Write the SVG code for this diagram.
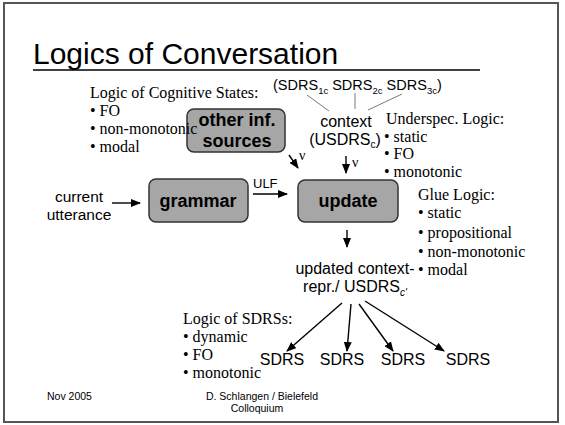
<svg xmlns="http://www.w3.org/2000/svg" width="565" height="425" viewBox="0 0 565 425">
<defs>
<marker id="ah" markerUnits="userSpaceOnUse" markerWidth="10" markerHeight="8" refX="9" refY="4" orient="auto">
<path d="M0,0 L10,4 L0,8 z" fill="#000"/>
</marker>
<style>
.sans{font-family:"Liberation Sans",Arial,sans-serif;fill:#000}
.serif{font-family:"Liberation Serif","Times New Roman",serif;fill:#000;font-size:16px}
.box{fill:#a6a6a6;stroke:#333;stroke-width:1.5}
.lbl{font-family:"Liberation Sans",Arial,sans-serif;font-weight:bold;font-size:18px;text-anchor:middle;fill:#000}
.arr{stroke:#000;stroke-width:1.4;fill:none;marker-end:url(#ah)}
.thin{stroke:#555;stroke-width:0.8;fill:none}
.t16{font-size:16px}
.mid{text-anchor:middle}
.nu{font-family:"Liberation Serif","Times New Roman",serif;font-size:14px;fill:#000}
.foot{font-family:"Liberation Sans",Arial,sans-serif;font-size:10.5px;fill:#000}
</style>
</defs>
<rect x="0" y="0" width="565" height="425" fill="#fff"/>
<rect x="4" y="3" width="554" height="419" fill="none" stroke="#555" stroke-width="2"/>

<g id="title">
<text class="sans" x="33" y="64" font-size="30">Logics of Conversation</text>
<line x1="33" y1="70" x2="480" y2="70" stroke="#000" stroke-width="1.5"/>
</g>

<g id="sdrs-context-set">
<text class="sans" font-size="14.5" x="273" y="90">(SDRS<tspan font-size="9.5" dy="4">1c</tspan><tspan dy="-4"> SDRS</tspan><tspan font-size="9.5" dy="4">2c</tspan><tspan dy="-4"> SDRS</tspan><tspan font-size="9.5" dy="4">3c</tspan><tspan dy="-4">)</tspan></text>
</g>

<g id="context">
<text class="sans t16 mid" x="346" y="127">context</text>
<text class="sans t16 mid" x="345" y="145">(USDRS<tspan font-size="10" dy="3">c</tspan><tspan dy="-3">)</tspan></text>
</g>

<g id="other-sources">
<rect class="box" x="187" y="109" width="98" height="43" rx="7"/>
<text class="lbl" x="237" y="126">other inf.</text>
<text class="lbl" x="237" y="147">sources</text>
</g>

<g id="cognitive-logic">
<text class="serif" x="90" y="98">Logic of Cognitive States:</text>
<text class="serif" x="90" y="116">• FO</text>
<text class="serif" x="90" y="134">• non-monotonic</text>
<text class="serif" x="90" y="152">• modal</text>
</g>

<g id="underspec-logic">
<text class="serif" x="386" y="124">Underspec. Logic:</text>
<text class="serif" x="384" y="142">• static</text>
<text class="serif" x="384" y="159">• FO</text>
<text class="serif" x="384" y="177">• monotonic</text>
</g>

<g id="current-utterance">
<text class="sans mid" font-size="15.5" x="79" y="202">current</text>
<text class="sans mid" font-size="15.5" x="79" y="220">utterance</text>
</g>

<g id="grammar">
<rect class="box" x="149" y="179" width="99" height="43" rx="7"/>
<text class="lbl" x="198" y="207">grammar</text>
</g>

<g id="update">
<rect class="box" x="298" y="180" width="100" height="42" rx="7"/>
<text class="lbl" x="348" y="207">update</text>
</g>

<g id="glue-logic">
<text class="serif" x="418" y="200">Glue Logic:</text>
<text class="serif" x="418" y="218">• static</text>
<text class="serif" x="418" y="238">• propositional</text>
<text class="serif" x="418" y="257">• non-monotonic</text>
<text class="serif" x="418" y="275">• modal</text>
</g>

<g id="updated-context">
<text class="sans t16 mid" x="355" y="274">updated context-</text>
<text class="sans t16 mid" x="355" y="292">repr./ USDRS<tspan font-size="10" dy="4" font-style="italic">c'</tspan></text>
</g>

<g id="sdrs-logic">
<text class="serif" x="183" y="324">Logic of SDRSs:</text>
<text class="serif" x="183" y="342">• dynamic</text>
<text class="serif" x="183" y="360">• FO</text>
<text class="serif" x="183" y="378">• monotonic</text>
</g>

<g id="sdrs1"><text class="sans t16 mid" x="282" y="365">SDRS</text></g>
<g id="sdrs2"><text class="sans t16 mid" x="342" y="365">SDRS</text></g>
<g id="sdrs3"><text class="sans t16 mid" x="403" y="365">SDRS</text></g>
<g id="sdrs4"><text class="sans t16 mid" x="468" y="365">SDRS</text></g>

<g id="connectors">
<line class="thin" x1="307" y1="95" x2="329" y2="111"/>
<line class="thin" x1="355" y1="93" x2="355" y2="109"/>
<line class="thin" x1="402" y1="94" x2="368" y2="110"/>
<line class="arr" x1="289" y1="155" x2="298" y2="168"/>
<text class="nu" x="299" y="160">ν</text>
<line class="arr" x1="346" y1="156" x2="346" y2="173"/>
<text class="nu" x="352" y="167">ν</text>
<line class="arr" x1="112" y1="203" x2="140" y2="203"/>
<text class="sans" font-size="13" x="253" y="188">ULF</text>
<line class="arr" x1="253" y1="194" x2="287" y2="194"/>
<line class="arr" x1="347" y1="230" x2="347" y2="247"/>
<line class="arr" x1="342" y1="303" x2="287" y2="351"/>
<line class="arr" x1="351" y1="304" x2="347" y2="351"/>
<line class="arr" x1="359" y1="304" x2="393" y2="351"/>
<line class="arr" x1="365" y1="301" x2="444" y2="351"/>
</g>

<g id="footer">
<text class="foot" x="47" y="400">Nov 2005</text>
<text class="foot mid" x="262" y="400">D. Schlangen / Bielefeld</text>
<text class="foot mid" x="257" y="412">Colloquium</text>
</g>
</svg>
